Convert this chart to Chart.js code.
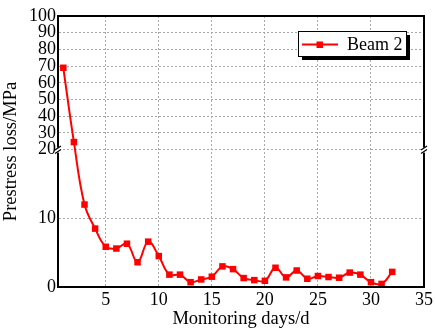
<!DOCTYPE html>
<html>
<head>
<meta charset="utf-8">
<script src="https://cdn.jsdelivr.net/npm/chart.js@4/dist/chart.umd.min.js"></script>
<style>
    html, body { margin: 0; padding: 0; background: #fff; }
    #wrap { width: 435px; height: 330px; }
</style>
</head>
<body>
<div id="wrap"><canvas id="lossChart"></canvas></div>
<script>
const days = [1, 2, 3, 4, 5, 6, 7, 8, 9, 10, 11, 12, 13, 14, 15, 16, 17, 18, 19, 20, 21, 22, 23, 24, 25, 26, 27, 28, 29, 30, 31, 32];
const beam2 = [69, 24.5, 12, 8.5, 5.85, 5.6, 6.3, 3.6, 6.6, 4.5, 1.8, 1.8, 0.7, 1.1, 1.5, 3.0, 2.6, 1.3, 1.0, 0.9, 2.8, 1.4, 2.4, 1.2, 1.6, 1.45, 1.35, 2.1, 1.8, 0.7, 0.45, 2.2];
const xTicks = [5, 10, 15, 20, 25, 30, 35];
const yTicks = [0, 10, 20, 30, 40, 50, 60, 70, 80, 90, 100];
const breakAt = 20;

// linear scale with the 0-20 part stretched over the lower half
class BrokenScale extends Chart.LinearScale {
    toDecimal(v) {
        const low = 0.507;
        if (v <= breakAt) return (v - this.min) / (breakAt - this.min) * low;
        return low + (v - breakAt) / (this.max - breakAt) * (1 - low);
    }
    getPixelForValue(value) {
        if (value === null || isNaN(value)) return NaN;
        return this.getPixelForDecimal(this.toDecimal(value));
    }
    getValueForPixel(pixel) {
        const d = this.getDecimalForPixel(pixel);
        const low = 0.507;
        if (d <= low) return this.min + d / low * (breakAt - this.min);
        return breakAt + (d - low) / (1 - low) * (this.max - breakAt);
    }
}
BrokenScale.id = 'broken';
BrokenScale.defaults = Chart.LinearScale.defaults;
Chart.register(BrokenScale);

const serif = 'Liberation Serif, Times New Roman, serif';

const frame = {
    id: 'frame',
    afterDraw(chart) {
        const { ctx, chartArea: a } = chart;
        const y = chart.scales.y.getPixelForValue(breakAt);
        ctx.save();
        ctx.strokeStyle = '#000';
        ctx.lineWidth = 2;
        ctx.setLineDash([]);
        ctx.strokeRect(a.left, a.top, a.right - a.left, a.bottom - a.top);
        // axis break marks
        [a.left, a.right].forEach(x => {
            ctx.fillStyle = '#fff';
            ctx.fillRect(x - 2, y - 2, 4, 5);
            ctx.lineWidth = 1.2;
            ctx.beginPath();
            ctx.moveTo(x - 3, y + 0.5); ctx.lineTo(x + 3, y - 3.5);
            ctx.moveTo(x - 3, y + 4); ctx.lineTo(x + 3, y);
            ctx.stroke();
        });
        ctx.restore();
    }
};

const legendBox = {
    id: 'legendBox',
    afterDraw(chart) {
        const { ctx } = chart;
        const ds = chart.data.datasets[0];
        const x = 298, y = 31, w = 108, h = 25;
        ctx.save();
        ctx.fillStyle = '#000';
        ctx.fillRect(x + 4, y + 4, w, h);
        ctx.fillStyle = '#fff';
        ctx.fillRect(x, y, w, h);
        ctx.strokeStyle = '#000';
        ctx.lineWidth = 1;
        ctx.strokeRect(x + 0.5, y + 0.5, w, h);
        ctx.strokeStyle = ds.borderColor;
        ctx.lineWidth = 2;
        ctx.beginPath();
        ctx.moveTo(x + 4, y + 13.5);
        ctx.lineTo(x + 40, y + 13.5);
        ctx.stroke();
        ctx.fillStyle = ds.borderColor;
        ctx.fillRect(x + 18.5, y + 10.5, 6.5, 6.5);
        ctx.fillStyle = '#000';
        ctx.font = '18px ' + serif;
        ctx.textBaseline = 'middle';
        ctx.fillText(ds.label, x + 49, y + 14);
        ctx.restore();
    }
};

const gridColor = (ctx, edge) => ctx.tick && ctx.tick.value === edge ? 'rgba(0,0,0,0)' : '#a8a8a8';

new Chart(document.getElementById('lossChart'), {
    type: 'line',
    data: {
        datasets: [{
            label: 'Beam 2',
            data: days.map((d, i) => ({ x: d, y: beam2[i] })),
            borderColor: '#ff0000',
            backgroundColor: '#ff0000',
            borderWidth: 2,
            pointStyle: 'rect',
            pointRadius: 4.6,
            pointBorderWidth: 0,
            tension: 0.4,
            clip: false
        }]
    },
    options: {
        responsive: true,
        maintainAspectRatio: false,
        animation: false,
        layout: { padding: { top: 16, right: 9, left: 0, bottom: 0 } },
        plugins: {
            legend: { display: false },
            tooltip: { enabled: false }
        },
        scales: {
            x: {
                type: 'linear',
                min: 0.5,
                max: 35,
                afterBuildTicks: s => { s.ticks = xTicks.map(v => ({ value: v })); },
                afterFit: s => { s.height = 43; },
                grid: {
                    color: c => gridColor(c, 35),
                    drawTicks: false
                },
                border: { display: true, color: '#000', width: 2, dash: [2, 2] },
                ticks: { color: '#000', font: { family: serif, size: 18 }, padding: 2, maxRotation: 0 },
                title: {
                    display: true,
                    text: 'Monitoring days/d',
                    color: '#000',
                    font: { family: serif, size: 18.5 },
                    padding: { top: 0, bottom: 0 }
                }
            },
            y: {
                type: 'broken',
                min: 0,
                max: 100,
                afterBuildTicks: s => { s.ticks = yTicks.map(v => ({ value: v })); },
                afterFit: s => { s.width = 58; },
                grid: {
                    color: c => gridColor(c, 100),
                    drawTicks: false
                },
                border: { display: true, color: '#000', width: 2, dash: [2, 2] },
                ticks: { color: '#000', font: { family: serif, size: 18 }, padding: 2 },
                title: {
                    display: true,
                    text: 'Prestress loss/MPa',
                    color: '#000',
                    font: { family: serif, size: 18.5 },
                    padding: { top: 0, bottom: 1 }
                }
            }
        }
    },
    plugins: [frame, legendBox]
});
</script>
</body>
</html>
